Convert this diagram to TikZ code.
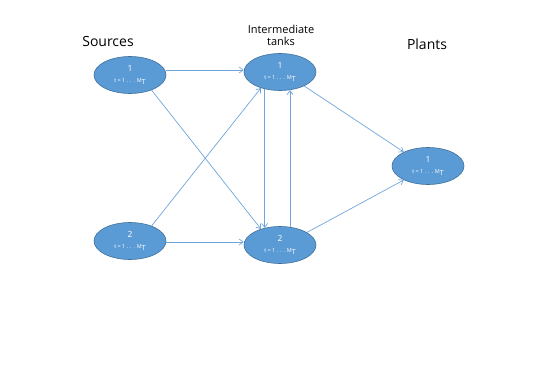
\documentclass[tikz,border=0pt]{standalone}
\usepackage{fontspec}
\setmainfont{Open Sans}
\usetikzlibrary{shapes.geometric,arrows.meta}
\definecolor{nodefill}{HTML}{5B9BD5}
\definecolor{nodeborder}{HTML}{41719C}
\definecolor{linkcol}{HTML}{6FA5DB}
\tikzset{
  stage/.style={ellipse,draw=nodeborder,line width=0.6pt,fill=nodefill,minimum width=72pt,minimum height=37pt,inner sep=0pt,text=white,align=center,font=\fontsize{8.5}{9}\selectfont},
  link/.style={draw=linkcol,line width=0.7pt,-{Straight Barb[length=4pt,width=6pt]}},
  heading/.style={font=\fontsize{14}{16}\selectfont,align=center}
}
\newcommand{\tline}{{\fontsize{5.5}{6}\selectfont t = 1 . . . M\raisebox{-1.5pt}{\fontsize{7}{7}\selectfont T}}}
\begin{document}
\begin{tikzpicture}[x=1pt,y=-1pt]
\useasboundingbox (0,0) rectangle (545,382);
\node[heading] (hs) at (108,42) {Sources};
\node[heading,font=\fontsize{11}{12}\selectfont] (ht) at (281,35) {Intermediate\\tanks};
\node[heading] (hp) at (427,44) {Plants};
\node[stage] (s1) at (130,75) {1\\[2pt]\tline};
\node[stage] (s2) at (130,241) {2\\[2pt]\tline};
\node[stage] (t1) at (280,72) {1\\[2pt]\tline};
\node[stage] (t2) at (280,245) {2\\[2pt]\tline};
\node[stage] (p1) at (428,166) {1\\[2pt]\tline};
\draw[link] (s1.east |- 0,70) -- (t1.west |- 0,70);
\draw[link] (s2.east |- 0,242) -- (t2.west |- 0,242);
\draw[link] (s1.-35) -- (t2.140);
\draw[link] (s2.35) -- (t1.-140);
\draw[link] (t1.-132) -- (t2.132);
\draw[link] (t2.61) -- (t1.-61);
\draw[link] (t1.-30) -- (p1.150);
\draw[link] (t2.25) -- (p1.-150);
\end{tikzpicture}
\end{document}
